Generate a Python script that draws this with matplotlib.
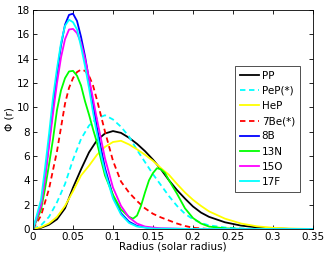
import numpy as np
import matplotlib.pyplot as plt

# radius grids and flux values
r_pp = [0, 0.01, 0.02, 0.03, 0.04, 0.05, 0.06, 0.07, 0.08, 0.09, 0.10, 0.11, 0.12, 0.13, 0.14, 0.15,
        0.16, 0.17, 0.18, 0.19, 0.20, 0.21, 0.22, 0.24, 0.26, 0.28, 0.30, 0.32, 0.35]
pp = [0, 0.1, 0.35, 0.8, 1.7, 3.4, 4.9, 6.3, 7.3, 7.85, 8.05, 7.9, 7.5, 7.0, 6.4, 5.7,
      4.9, 4.0, 3.2, 2.5, 1.85, 1.35, 1.0, 0.55, 0.28, 0.13, 0.05, 0.01, 0]

r_pep = [0, 0.01, 0.02, 0.03, 0.04, 0.05, 0.06, 0.07, 0.08, 0.09, 0.10, 0.11, 0.12, 0.13, 0.14, 0.15,
         0.16, 0.17, 0.18, 0.19, 0.20, 0.21, 0.22, 0.24, 0.26, 0.28, 0.35]
pep = [0, 0.3, 1.0, 2.2, 3.7, 5.7, 7.4, 8.5, 9.1, 9.35, 9.0, 8.4, 7.6, 6.5, 5.5, 4.5,
       3.6, 2.7, 1.9, 1.25, 0.8, 0.5, 0.3, 0.12, 0.04, 0, 0]

r_hep = [0, 0.01, 0.02, 0.03, 0.04, 0.05, 0.06, 0.07, 0.08, 0.09, 0.10, 0.11, 0.12, 0.13, 0.14, 0.15,
         0.16, 0.17, 0.18, 0.19, 0.20, 0.21, 0.22, 0.24, 0.26, 0.28, 0.30, 0.32, 0.35]
hep = [0, 0.15, 0.45, 1.0, 1.9, 3.1, 4.4, 5.2, 6.1, 6.75, 7.15, 7.25, 6.95, 6.55, 6.1, 5.6,
       5.0, 4.45, 3.7, 3.0, 2.4, 1.9, 1.45, 0.85, 0.45, 0.22, 0.1, 0.04, 0]

r_be7 = [0, 0.01, 0.02, 0.03, 0.04, 0.045, 0.05, 0.055, 0.06, 0.065, 0.07, 0.075, 0.08, 0.085, 0.09,
         0.10, 0.11, 0.12, 0.13, 0.14, 0.15, 0.16, 0.17, 0.18, 0.19, 0.20, 0.22, 0.35]
be7 = [0, 1.1, 3.3, 6.4, 10.3, 11.6, 12.4, 12.9, 13.1, 13.0, 12.6, 11.8, 10.6, 9.3, 8.0,
       5.6, 3.9, 3.0, 2.3, 1.7, 1.25, 0.95, 0.7, 0.45, 0.25, 0.1, 0, 0]

r_b8 = [0, 0.01, 0.015, 0.02, 0.025, 0.03, 0.035, 0.04, 0.045, 0.05, 0.055, 0.06, 0.065, 0.07, 0.075,
        0.08, 0.085, 0.09, 0.10, 0.11, 0.12, 0.13, 0.15, 0.2, 0.35]
b8 = [0, 2.0, 4.3, 7.1, 10.0, 12.8, 15.1, 16.8, 17.6, 17.7, 17.1, 15.8, 14.2, 12.3, 10.3,
      8.3, 6.6, 5.0, 2.7, 1.3, 0.6, 0.25, 0.03, 0, 0]

r_n13 = [0, 0.01, 0.015, 0.02, 0.025, 0.03, 0.035, 0.04, 0.045, 0.05, 0.055, 0.06, 0.065, 0.07,
         0.075, 0.08, 0.085, 0.09, 0.10, 0.11, 0.12, 0.125, 0.13, 0.135, 0.14, 0.145, 0.15, 0.155,
         0.16, 0.165, 0.17, 0.18, 0.19, 0.20, 0.21, 0.22, 0.24, 0.27, 0.35]
n13 = [0, 1.6, 3.3, 5.3, 7.4, 9.8, 11.4, 12.4, 12.95, 13.0, 12.6, 11.8, 10.5, 9.4,
       8.2, 7.1, 5.7, 4.4, 2.8, 1.6, 1.0, 0.85, 1.1, 1.9, 3.0, 4.0, 4.6, 5.0,
       4.9, 4.6, 4.0, 2.9, 1.7, 0.9, 0.45, 0.2, 0.05, 0, 0]

r_o15 = [0, 0.01, 0.015, 0.02, 0.025, 0.03, 0.035, 0.04, 0.045, 0.05, 0.055, 0.06, 0.065, 0.07, 0.075,
         0.08, 0.085, 0.09, 0.10, 0.11, 0.12, 0.13, 0.14, 0.16, 0.2, 0.35]
o15 = [0, 1.9, 4.1, 6.8, 9.5, 12.0, 14.1, 15.6, 16.4, 16.45, 16.1, 15.3, 14.0, 12.4, 10.7,
       9.0, 7.4, 5.8, 3.4, 1.9, 0.95, 0.45, 0.2, 0.05, 0, 0]

r_f17 = [0, 0.01, 0.015, 0.02, 0.025, 0.03, 0.035, 0.04, 0.045, 0.05, 0.055, 0.06, 0.065, 0.07, 0.075,
         0.08, 0.085, 0.09, 0.10, 0.11, 0.12, 0.13, 0.15, 0.2, 0.35]
f17 = [0, 2.4, 5.0, 7.8, 10.8, 13.2, 15.3, 16.7, 17.2, 17.0, 16.4, 15.0, 13.4, 11.6, 9.6,
       7.8, 6.1, 4.7, 2.5, 1.2, 0.5, 0.2, 0.03, 0, 0]

xticks = [0, 0.05, 0.1, 0.15, 0.2, 0.25, 0.3, 0.35]
xticklabels = ['0', '0.05', '0.1', '0.15', '0.2', '0.25', '0.3', '0.35']
yticks = list(range(0, 19, 2))

fig = plt.figure(figsize=(3.27, 2.57), dpi=100)
ax = fig.add_axes([0.101, 0.109, 0.856, 0.852])

lw = 1.3
ax.plot(r_pp, pp, color='k', lw=lw, label='PP')
ax.plot(r_pep, pep, color='#00ffff', lw=lw, ls=(0, (3, 2)), label='PeP(*)')
ax.plot(r_hep, hep, color='#ffff00', lw=lw, label='HeP')
ax.plot(r_be7, be7, color='r', lw=lw, ls=(0, (3, 2)), label='7Be(*)')
ax.plot(r_b8, b8, color='b', lw=lw, label='8B')
ax.plot(r_n13, n13, color='#00ff00', lw=lw, label='13N')
ax.plot(r_o15, o15, color='#ff00ff', lw=lw, label='15O')
ax.plot(r_f17, f17, color='#00ffff', lw=lw, label='17F')

ax.set_xlim(0, 0.35)
ax.set_ylim(0, 18)
ax.set_xticks(xticks)
ax.set_xticklabels(xticklabels)
ax.set_yticks(yticks)
ax.tick_params(direction='in', top=True, right=True, labelsize=7.5, length=3, width=0.6, pad=2)
for s in ax.spines.values():
    s.set_linewidth(0.6)

ax.set_xlabel('Radius (solar radius)', fontsize=7.5, labelpad=0)
ax.set_ylabel('Φ (r)', fontsize=7.5, labelpad=2)

leg = ax.legend(loc='upper left', bbox_to_anchor=(0.722, 0.745), fontsize=7.5, frameon=True,
                fancybox=False, edgecolor='k', handlelength=1.8, handletextpad=0.3,
                borderpad=0.45, labelspacing=0.5, borderaxespad=0)
leg.get_frame().set_linewidth(0.6)

fig.savefig('out.png', dpi=100)
